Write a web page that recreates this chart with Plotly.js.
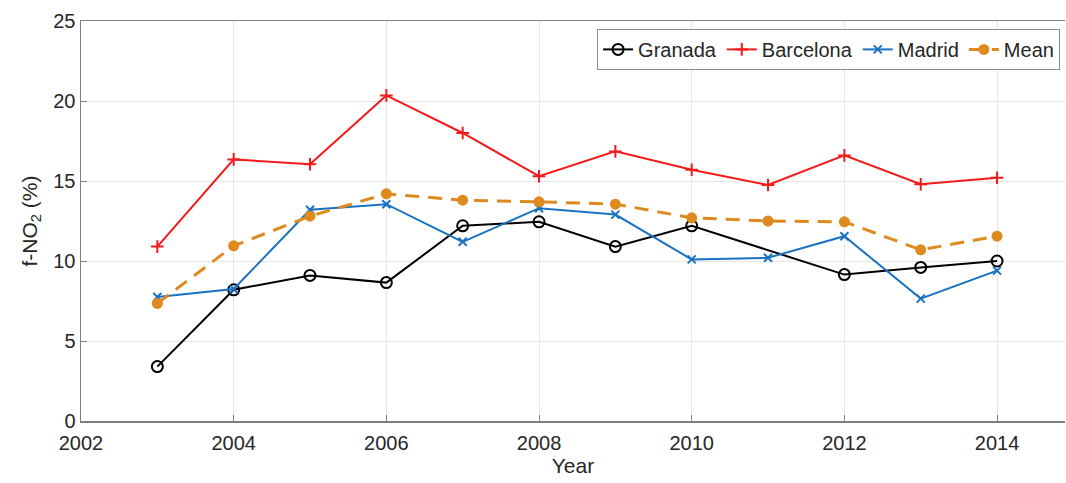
<!DOCTYPE html>
<html>
<head>
<meta charset="utf-8">
<script src="https://cdn.plot.ly/plotly-3.0.1.min.js"></script>
<style>
  html, body { margin: 0; padding: 0; background: #ffffff; }
  #chart { width: 1066px; height: 483px; }
</style>
</head>
<body>
<div id="chart"></div>
<script>
// Annual fraction of NO2 in NOx emissions (f-NO2, %) for three Spanish cities
const years = [2003, 2004, 2005, 2006, 2007, 2008, 2009, 2010, 2011, 2012, 2013, 2014];

const granada   = [3.4, 8.2, 9.1, 8.65, 12.2, 12.45, 10.9, 12.2, null, 9.15, 9.6, 10.0];
const barcelona = [10.9, 16.35, 16.05, 20.35, 18.0, 15.3, 16.85, 15.7, 14.75, 16.6, 14.8, 15.2];
const madrid    = [7.75, 8.25, 13.2, 13.55, 11.2, 13.3, 12.9, 10.1, 10.2, 11.55, 7.65, 9.4];
const meanVals  = [7.35, 10.95, 12.8, 14.2, 13.8, 13.7, 13.55, 12.7, 12.5, 12.45, 10.7, 11.55];

const seriesNames = ['Granada', 'Barcelona', 'Madrid', 'Mean'];
const yTicks = [0, 5, 10, 15, 20, 25];
const xTicks = [2002, 2004, 2006, 2008, 2010, 2012, 2014];

const textColor = '#262626';
const fontFamily = 'Liberation Sans, Arial, Helvetica, sans-serif';

const traces = [
  {
    x: years, y: granada, name: seriesNames[0], type: 'scatter', mode: 'lines+markers',
    connectgaps: true,
    line: { color: '#000000', width: 2 },
    marker: { symbol: 'circle-open', size: 11, color: '#000000', line: { width: 2, color: '#000000' } }
  },
  {
    x: years, y: barcelona, name: seriesNames[1], type: 'scatter', mode: 'lines+markers',
    line: { color: '#f21a1a', width: 2 },
    marker: { symbol: 'cross-thin', size: 9, color: '#f21a1a', line: { width: 2, color: '#f21a1a' } }
  },
  {
    x: years, y: madrid, name: seriesNames[2], type: 'scatter', mode: 'lines+markers',
    line: { color: '#1a72c0', width: 2 },
    marker: { symbol: 'x-thin', size: 8, color: '#1a72c0', line: { width: 2, color: '#1a72c0' } }
  },
  {
    x: years, y: meanVals, name: seriesNames[3], type: 'scatter', mode: 'lines+markers',
    line: { color: '#de8a1e', width: 3, dash: '14px,9px' },
    marker: { symbol: 'circle', size: 11, color: '#de8a1e' }
  }
];

const layout = {
  width: 1066,
  height: 483,
  paper_bgcolor: '#ffffff',
  plot_bgcolor: '#ffffff',
  margin: { l: 81, r: 1, t: 21, b: 62, pad: 0 },
  font: { family: fontFamily, size: 20, color: textColor },
  showlegend: true,
  legend: {
    orientation: 'h',
    x: 0.995, xanchor: 'right',
    y: 0.929, yanchor: 'middle',
    bgcolor: '#ffffff',
    bordercolor: '#8c8c8c',
    borderwidth: 1,
    font: { family: fontFamily, size: 20, color: textColor },
    itemwidth: 30,
    tracegroupgap: 0
  },
  xaxis: {
    range: [2002, 2014.89],
    tickvals: xTicks,
    ticktext: xTicks.map(String),
    ticks: 'inside',
    ticklen: 6,
    tickwidth: 1,
    tickcolor: '#808080',
    ticklabelstandoff: 3,
    showline: true,
    linecolor: '#808080',
    linewidth: 1.5,
    mirror: true,
    showgrid: true,
    gridcolor: '#e6e6e6',
    gridwidth: 1,
    zeroline: false,
    tickfont: { family: fontFamily, size: 20, color: textColor },
    title: { text: 'Year', font: { family: fontFamily, size: 21, color: textColor }, standoff: 6 }
  },
  yaxis: {
    range: [0, 25],
    tickvals: yTicks,
    ticktext: yTicks.map(String),
    ticks: 'inside',
    ticklen: 6,
    tickwidth: 1,
    tickcolor: '#808080',
    showline: true,
    linecolor: '#808080',
    linewidth: 1.5,
    showgrid: true,
    gridcolor: '#e6e6e6',
    gridwidth: 1,
    zeroline: false,
    tickfont: { family: fontFamily, size: 20, color: textColor },
    title: { text: 'f-NO<sub>2</sub> (%)', font: { family: fontFamily, size: 21, color: textColor }, standoff: 10 }
  }
};

Plotly.newPlot('chart', traces, layout, { displayModeBar: false, staticPlot: true });
</script>
</body>
</html>
